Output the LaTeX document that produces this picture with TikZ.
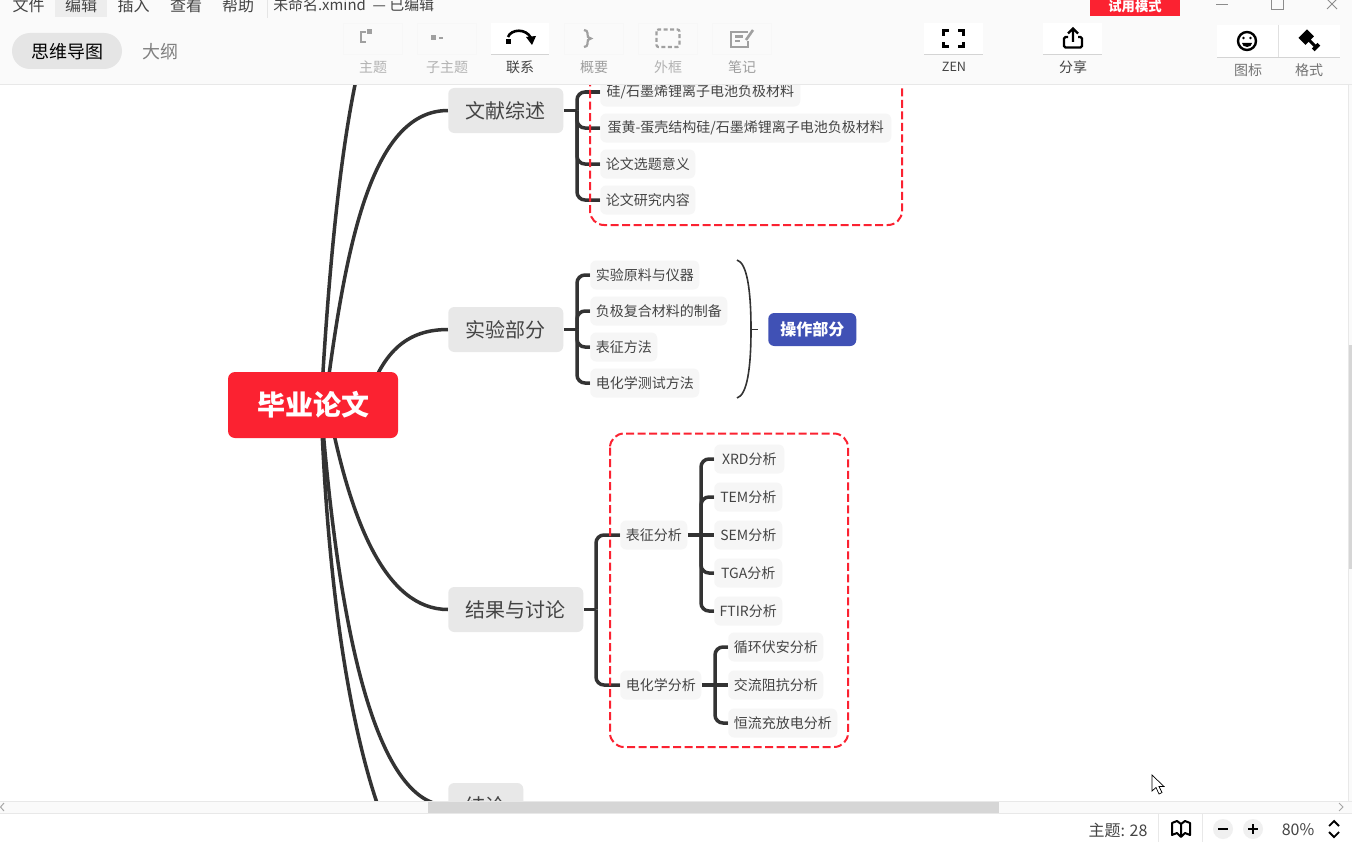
\documentclass[tikz,border=0pt]{standalone}
\usepackage{fontspec}
\usetikzlibrary{shadows}
\setmainfont{Noto Sans CJK SC}
\pgfdeclarelayer{under}
\pgfsetlayers{under,main}
\newlength\pxu \setlength\pxu{0.75pt}
\definecolor{ink}{HTML}{333333}
\definecolor{txt}{HTML}{444444}
\definecolor{redm}{HTML}{FB2231}
\definecolor{bluem}{HTML}{4051B5}
\definecolor{bar}{HTML}{FAFAFA}
\definecolor{edge}{HTML}{E8E8E8}
\definecolor{icong}{HTML}{A0A0A0}
\newcommand{\fs}[1]{\fontsize{#1}{#1}\selectfont}
\tikzset{
 curveline/.style={draw=ink,line width=3.5\pxu},
 branch/.style={draw=ink,line width=3.5\pxu,rounded corners=8\pxu},
 dashbox/.style={draw=redm,line width=2\pxu,dash pattern=on 8\pxu off 3.5\pxu,rounded corners=14\pxu},
 topic/.style={anchor=west,fill=edge,rounded corners=6\pxu,minimum height=45\pxu,inner sep=0pt,text=txt,font=\fs{15}},
 sub/.style={anchor=west,fill=black!3.5,rounded corners=6\pxu,minimum height=29\pxu,inner sep=0pt,text=txt,font=\fs{10.5}},
 menu/.style={inner sep=0pt,text=txt,font=\fs{12}},
 tbtn/.style={anchor=north west,minimum height=31\pxu,inner sep=0pt,fill=white},
 offbtn/.style={tbtn,fill=white!98!black,draw=black!3,line width=1\pxu},
 onbtn/.style={tbtn,drop shadow={shadow xshift=0pt,shadow yshift=-0.8pt,opacity=.15,fill=black}},
 lbl/.style={inner sep=0pt,font=\fs{10.5}},
 icoff/.style={draw=icong,line width=2.2\pxu},
 icon/.style={draw=black,line width=2.4\pxu},
 status/.style={inner sep=0pt,text=txt,font=\fs{12}}
}
\begin{document}
\begin{tikzpicture}[x=0.75pt,y=-0.75pt]
\clip (0,0) rectangle (1352,842);

% nodes
\node[anchor=center,fill=redm,rounded corners=7\pxu,minimum width=170\pxu,minimum height=66\pxu,inner sep=0pt,text=white,font=\fs{21}\bfseries] (main) at (313,405) {毕业论文};
\node[topic,minimum width=115\pxu] (wx) at (448,110.5) {文献综述};
\node[topic,minimum width=115\pxu] (sy) at (448,329.5) {实验部分};
\node[topic,minimum width=135\pxu] (jg) at (448,609.5) {结果与讨论};
\node[topic,minimum width=75\pxu] (jl) at (448,805.5) {结论};

\node[sub,minimum width=200\pxu] (w1) at (600,92) {硅/石墨烯锂离子电池负极材料};
\node[sub,minimum width=291\pxu] (w2) at (600,128) {蛋黄-蛋壳结构硅/石墨烯锂离子电池负极材料};
\node[sub,minimum width=95\pxu] (w3) at (600,164) {论文选题意义};
\node[sub,minimum width=95\pxu] (w4) at (600,200) {论文研究内容};

\node[sub,minimum width=109\pxu] (s1) at (590,275) {实验原料与仪器};
\node[sub,minimum width=137\pxu] (s2) at (590,311) {负极复合材料的制备};
\node[sub,minimum width=67\pxu] (s3) at (590,347) {表征方法};
\node[sub,minimum width=109\pxu] (s4) at (590,383) {电化学测试方法};

\node[anchor=west,fill=bluem,rounded corners=6\pxu,minimum width=88\pxu,minimum height=33\pxu,inner sep=0pt,text=white,font=\fs{12}\bfseries] (op) at (768,329.5) {操作部分};

\node[sub,minimum width=67\pxu] (j1) at (620,535) {表征分析};
\node[sub,minimum width=81\pxu] (j2) at (620,685) {电化学分析};
\node[sub,minimum width=70\pxu] (x1) at (714,459) {XRD分析};
\node[sub,minimum width=68\pxu] (x2) at (714,497) {TEM分析};
\node[sub,minimum width=68\pxu] (x3) at (714,535) {SEM分析};
\node[sub,minimum width=68\pxu] (x4) at (714,573) {TGA分析};
\node[sub,minimum width=68\pxu] (x5) at (714,611) {FTIR分析};
\node[sub,minimum width=95\pxu] (d1) at (728,647) {循环伏安分析};
\node[sub,minimum width=95\pxu] (d2) at (728,685) {交流阻抗分析};
\node[sub,minimum width=109\pxu] (d3) at (728,723) {恒流充放电分析};

% connector free ends
\coordinate (topfree) at (356,80);
\coordinate (lowfree) at (378,806);
\coordinate (wb) at (577,110.5);
\coordinate (sb) at (577,329.5);
\coordinate (jb) at (596,609.5);
\coordinate (j1b) at (701,535);
\coordinate (j2b) at (715,685);
\coordinate (brkt) at (751,329.5);
\coordinate (brkte) at (758,329.5);

\begin{pgfonlayer}{under}
\fill[white] (0,0) rectangle (1352,842);
% main curves
\draw[curveline] ([xshift=8\pxu]main.center) .. controls (327,300) and (337,170) .. (topfree);
\draw[curveline] ([xshift=12\pxu]main.center) .. controls (345,250) and (370,110.5) .. (wx.west);
\draw[curveline] ([xshift=52\pxu]main.center) .. controls (380,360) and (400,329.5) .. (sy.west);
\draw[curveline] ([xshift=15\pxu]main.center) .. controls (350,520) and (385,609.5) .. (jg.west);
\draw[curveline] ([xshift=8\pxu]main.center) .. controls (340,650) and (380,805.5) .. (jl.west);
\draw[curveline] ([xshift=8\pxu]main.center) .. controls (328,600) and (352,730) .. (lowfree);
% branches
\draw[branch] (wx.east) -- (wb);
\foreach \n in {w1,w2,w3,w4} \draw[branch] (wb) |- (\n.west);
\draw[branch] (sy.east) -- (sb);
\foreach \n in {s1,s2,s3,s4} \draw[branch] (sb) |- (\n.west);
\draw[branch] (jg.east) -- (jb);
\foreach \n in {j1,j2} \draw[branch] (jb) |- (\n.west);
\draw[branch] (j1.east) -- (x3.west);
\foreach \n in {x1,x2,x4,x5} \draw[branch] (j1b) |- (\n.west);
\draw[branch] (j2.east) -- (d2.west);
\foreach \n in {d1,d3} \draw[branch] (j2b) |- (\n.west);
% summary bracket
\draw[draw=ink,line width=1.6\pxu] (737,260) .. controls (747,263) and (751,290) .. (brkt) .. controls (751,369) and (747,395) .. (737,398);
\draw[draw=ink,line width=1.6\pxu] (brkt) -- (brkte);
% boundaries
\draw[dashbox] (590,30) rectangle (902,225);
\draw[dashbox] (610,433.5) rectangle (848,747);
\end{pgfonlayer}

% bottom bars
\fill[white] (0,801) rectangle (1352,842);
\fill[bar] (0,801) rectangle (1352,813);
\draw[edge,line width=1\pxu] (0,801) -- (1352,801) (0,813.5) -- (1352,813.5);
\fill[black!16] (428,801.5) rectangle (999,813);
\draw[black!35,line width=1\pxu] (4,803) -- (0.5,807) -- (4,811);
\draw[black!35,line width=1\pxu] (1339,803) -- (1343,807) -- (1339,811);
\fill[bar] (1348,85) rectangle (1352,801);
\draw[edge,line width=1\pxu] (1348,85) -- (1348,801);
\fill[black!16] (1348.5,345) rectangle (1352,569);
\draw[edge,line width=1\pxu] (1158.5,813) -- (1158.5,842) (1202.5,813) -- (1202.5,842);
\node[status] (st) at (1118,830) {主题: 28};
\node[status] (zoomv) at (1298,830) {80\%};
\node[circle,fill=black!6,minimum size=20\pxu,inner sep=0pt] (zm) at (1223,829) {};
\node[circle,fill=black!6,minimum size=20\pxu,inner sep=0pt] (zp) at (1253,829) {};
\draw[black,line width=2\pxu] (1218,829) -- (1228,829) (1248,829) -- (1258,829) (1253,824) -- (1253,834);
\draw[black,line width=2\pxu,line join=round] (1172,823) -- (1177,821) -- (1181,824) -- (1185,821) -- (1190,823) -- (1190,835) -- (1185,833) -- (1181,837) -- (1177,833) -- (1172,835) -- cycle (1181,824) -- (1181,837);
\draw[black,line width=1.8\pxu] (1329,826) -- (1334,821) -- (1339,826) (1329,832) -- (1334,837) -- (1339,832);
\draw[black,line width=.7\pxu,fill=white] (1152,775) -- (1152,791) -- (1156,787.5) -- (1159,794) -- (1162,792.5) -- (1159,786.5) -- (1164,786.5) -- cycle;

% top toolbar
\fill[bar] (0,0) rectangle (1352,84);
\draw[edge,line width=1\pxu] (0,84.5) -- (1352,84.5);
\fill[black!7] (55,0) rectangle (107,17);
\node[menu] (m1) at (28.5,5) {文件};
\node[menu] (m2) at (81,5) {编辑};
\node[menu] (m3) at (133.5,5) {插入};
\node[menu] (m4) at (186,5) {查看};
\node[menu] (m5) at (238,5) {帮助};
\draw[black!10,line width=1\pxu] (267,0) -- (267,18);
\node[menu,anchor=west,font=\fs{11.2}] (fname) at (273,5) {未命名.xmind \ — 已编辑};
\fill[redm] (1090,0) rectangle (1180,16);
\node[inner sep=0pt,text=white,font=\fs{10}\bfseries] (trial) at (1135,6) {试用模式};
\draw[black!45,line width=1\pxu] (1216,5) -- (1228,5);
\draw[black!45,line width=1\pxu] (1271.5,-2) rectangle (1283.5,10);
\draw[black!45,line width=1\pxu] (1327,-1) -- (1337,9) (1337,-1) -- (1327,9);

\fill[black!10,rounded corners=18\pxu] (12,33) rectangle (122,69);
\node[inner sep=0pt,font=\fs{13.5},text=black] (tabm) at (67.5,51.5) {思维导图};
\node[inner sep=0pt,font=\fs{13.5},text=black!50] (tabo) at (160,51.5) {大纲};

\node[offbtn,minimum width=59\pxu] (b1) at (343,23) {};
\node[offbtn,minimum width=59\pxu] (b2) at (417,23) {};
\node[onbtn,minimum width=58\pxu] (b3) at (491,23) {};
\node[offbtn,minimum width=59\pxu] (b4) at (564,23) {};
\node[offbtn,minimum width=59\pxu] (b5) at (638,23) {};
\node[offbtn,minimum width=59\pxu] (b6) at (712,23) {};
\node[onbtn,minimum width=59\pxu] (b7) at (924,23) {};
\node[onbtn,minimum width=59\pxu] (b8) at (1043,23) {};
\node[onbtn,minimum width=123\pxu,minimum height=32\pxu] (b9) at (1217,25) {};
\draw[black!12,line width=1\pxu] (1278,25) -- (1278,57);

\node[lbl,text=black!30] (l1) at (373,67) {主题};
\node[lbl,text=black!30] (l2) at (447,67) {子主题};
\node[lbl,text=txt] (l3) at (520,67) {联系};
\node[lbl,text=black!38] (l4) at (594,67) {概要};
\node[lbl,text=black!30] (l5) at (668,67) {外框};
\node[lbl,text=black!38] (l6) at (742,67) {笔记};
\node[lbl,text=txt,font=\fs{9.5}] (l7) at (954,67) {ZEN};
\node[lbl,text=txt] (l8) at (1073,67) {分享};
\node[lbl,text=black!55] (l9) at (1248,70.5) {图标};
\node[lbl,text=black!55] (l10) at (1309,70.5) {格式};

% toolbar icons
\draw[icoff] (366,32) -- (361,32) -- (361,42) -- (366,42);
\fill[icong] (367,29) rectangle (372,34);
\fill[icong] (431,35) rectangle (436,40);
\fill[icong] (439,37) rectangle (443,39);
\fill[black] (506,39) rectangle (511,44);
\draw[icon,line width=2.6\pxu] (508,37) .. controls (511,29) and (526,28) .. (531,38);
\fill[black] (526,37) -- (536,36) -- (532,45) -- cycle;
\draw[icoff] (584,30) .. controls (589,30) and (587,36) .. (588,37) -- (591,38.5) -- (588,40) .. controls (587,41) and (589,47) .. (584,47);
\draw[icoff,dash pattern=on 4\pxu off 2.5\pxu,rounded corners=2\pxu] (656.5,29.5) rectangle (679.5,47);
\draw[icoff,line width=2.6\pxu] (748,32) -- (731,32) -- (731,47) -- (748,47) -- (748,41);
\draw[icoff] (735,36.5) -- (743,36.5) (735,41) -- (740,41);
\draw[icoff,line width=2.6\pxu] (746,40) -- (753,30);
\draw[icon,line width=3\pxu] (943.5,36) -- (943.5,30.5) -- (949,30.5) (958,30.5) -- (963.5,30.5) -- (963.5,36) (963.5,42) -- (963.5,47) -- (958,47) (949,47) -- (943.5,47) -- (943.5,42);
\draw[icon,rounded corners=1.5\pxu] (1068,37) -- (1064,37) -- (1064,47.5) -- (1082,47.5) -- (1082,37) -- (1078,37);
\draw[icon] (1073,42) -- (1073,29) (1068,33.5) -- (1073,28.5) -- (1078,33.5);
\draw[icon] (1247,41) circle (9);
\fill[black] (1243.5,38) circle (1.4) (1250.5,38) circle (1.4);
\fill[black] (1242,43) -- (1252,43) arc[start angle=0,end angle=180,radius=5,y radius=4] -- cycle;
\fill[black,rotate around={45:(1309,40)}] (1303,31) rectangle (1315,41) (1307.5,41) rectangle (1310.5,51);
\fill[black,rotate around={45:(1309,40)}] (1305,48) rectangle (1313,52);
\end{tikzpicture}
\end{document}
